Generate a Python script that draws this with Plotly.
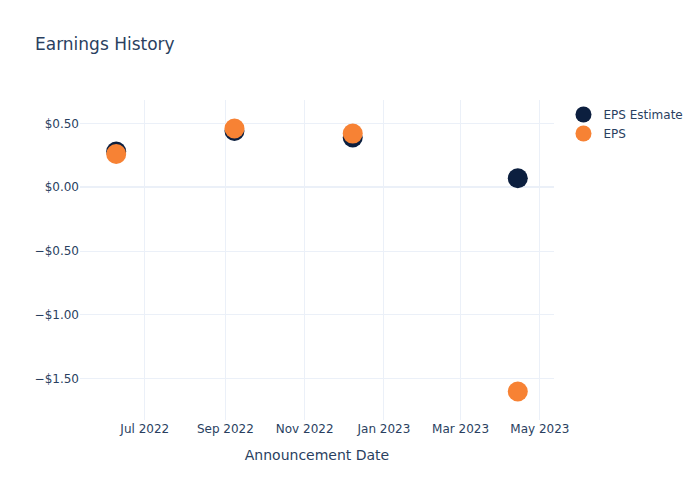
import plotly.graph_objects as go

dates = ["2022-06-09", "2022-09-08", "2022-12-08", "2023-04-14"]
eps_estimate = [0.28, 0.44, 0.39, 0.07]
eps_actual = [0.26, 0.46, 0.42, -1.60]

fig = go.Figure()
fig.add_trace(go.Scatter(x=dates, y=eps_estimate, mode="markers", name="EPS Estimate",
                         marker=dict(color="#0c1f3f", size=20)))
fig.add_trace(go.Scatter(x=dates, y=eps_actual, mode="markers", name="EPS",
                         marker=dict(color="#f78234", size=20)))
fig.update_layout(
    template="plotly_white",
    width=700, height=500,
    font=dict(family="DejaVu Sans"),
    title="Earnings History",
    xaxis_title="Announcement Date",
    yaxis=dict(tickformat="$.2f"),
)
fig.write_html("out.html")
